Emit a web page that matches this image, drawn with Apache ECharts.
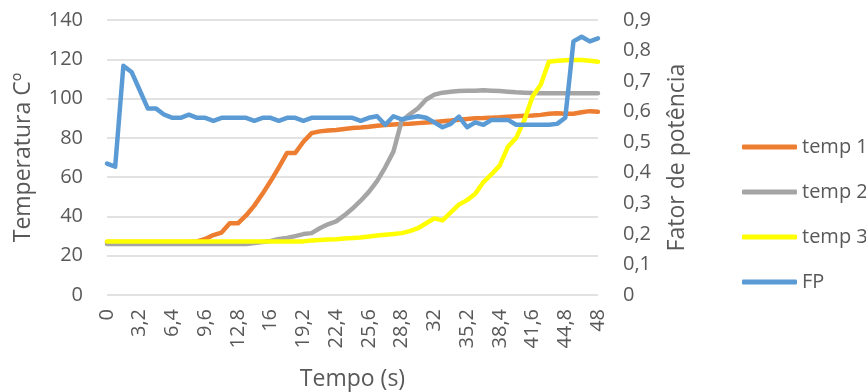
<!DOCTYPE html>
<html>
<head>
<meta charset="utf-8">
<script src="https://cdn.jsdelivr.net/npm/echarts@6/dist/echarts.min.js"></script>
<style>
html,body{margin:0;padding:0;background:#fff;}
#c{width:866px;height:392px;}
</style>
</head>
<body>
<div id="c"></div>
<script>
var categories = ['0','0,8','1,6','2,4','3,2','4','4,8','5,6','6,4','7,2','8','8,8','9,6','10,4','11,2','12','12,8','13,6','14,4','15,2','16','16,8','17,6','18,4','19,2','20','20,8','21,6','22,4','23,2','24','24,8','25,6','26,4','27,2','28','28,8','29,6','30,4','31,2','32','32,8','33,6','34,4','35,2','36','36,8','37,6','38,4','39,2','40','40,8','41,6','42,4','43,2','44','44,8','45,6','46,4','47,2','48'];

var temp1 = [27,27,27,27,27,27,27,27,27,27,
 27,27.3,28.5,30.5,31.8,36.5,36.5,40.5,45.5,51.5,
 58,65,72.3,72.3,78,82.4,83.3,83.7,84,84.5,
 85,85.3,85.7,86.2,86.6,86.8,87,87.2,87.5,87.8,
 88.1,88.5,88.8,89.2,89.6,90,90.1,90.3,90.5,90.8,
 91,91.2,91.4,91.7,92.3,92.5,92.3,92.3,93,93.6,
 93.3];

var temp2 = [26,26,26,26,26,26,26,26,26,26,
 26,26,26,26,26,26,26,26,26.5,27,
 27.5,28.5,29,30,31,31.5,34,36,37.5,40.5,
 44,48,52.5,58,65,73,88.5,92,95,99.5,
 102,103,103.5,103.8,104,104,104.2,104,103.8,103.5,
 103.2,103,102.8,102.7,102.7,102.7,102.7,102.7,102.7,102.7,
 102.7];

var temp3 = [27.3,27.3,27.3,27.3,27.3,27.3,27.3,27.3,27.3,27.3,
 27.3,27.3,27.3,27.3,27.3,27.3,27.3,27.3,27.3,27.3,
 27.3,27.3,27.3,27.3,27.3,27.8,28,28.2,28.4,28.8,
 29,29.3,29.8,30.3,30.7,31,31.5,32.5,34,36.5,
 39,38,42,46,48.3,51.5,57.5,61.5,66,75.5,
 80,89,101,107,118.8,119.3,119.5,119.6,119.6,119.3,
 118.8];

var fp = [0.43,0.42,0.75,0.73,0.67,0.61,0.61,0.59,0.58,0.58,
 0.59,0.58,0.58,0.57,0.58,0.58,0.58,0.58,0.57,0.58,
 0.58,0.57,0.58,0.58,0.57,0.58,0.58,0.58,0.58,0.58,
 0.58,0.57,0.58,0.585,0.557,0.585,0.575,0.58,0.585,0.58,
 0.565,0.549,0.56,0.584,0.549,0.565,0.557,0.573,0.573,0.573,
 0.557,0.557,0.557,0.557,0.557,0.56,0.58,0.83,0.845,0.83,
 0.84];

var seriesNames = ['temp 1','temp 2','temp 3','FP'];
var seriesColors = ['#ED7D31','#A5A5A5','#FFFF00','#5B9BD5'];

var FONT = 'Open Sans';
var TXT = '#595959';

function lineSeries(name, data, color, axisIdx) {
  return {
    name: name, type: 'line', data: data, yAxisIndex: axisIdx,
    symbol: 'none', showSymbol: false, smooth: false,
    lineStyle: {color: color, width: 4.5, cap: 'round', join: 'round'},
    itemStyle: {color: color},
    emphasis: {disabled: true}
  };
}

var chart = echarts.init(document.getElementById('c'), null, {renderer: 'canvas'});
chart.setOption({
  animation: false,
  backgroundColor: '#ffffff',
  textStyle: {fontFamily: FONT},
  grid: {left: 107, right: 268, top: 20, bottom: 97, containLabel: false, outerBoundsMode: 'none'},
  legend: {
    orient: 'vertical', left: 737, top: 130,
    itemWidth: 55, itemHeight: 5, itemGap: 21,
    icon: 'roundRect',
    data: seriesNames,
    textStyle: {color: TXT, fontSize: 20, fontFamily: FONT, lineHeight: 24}
  },
  xAxis: {
    type: 'category', data: categories, boundaryGap: false,
    name: 'Tempo (s)', nameLocation: 'middle', nameGap: 73,
    nameTextStyle: {color: TXT, fontSize: 23, fontFamily: FONT},
    axisLine: {show: false}, axisTick: {show: false},
    axisLabel: {interval: 3, rotate: 90, color: TXT, fontSize: 20, fontFamily: FONT, margin: 14},
    splitLine: {show: false}
  },
  yAxis: [{
    type: 'value', min: 0, max: 140, interval: 20,
    name: 'Temperatura Cº', nameLocation: 'middle', nameGap: 72, nameRotate: 90,
    nameTextStyle: {color: TXT, fontSize: 23, fontFamily: FONT},
    axisLine: {show: false}, axisTick: {show: false},
    axisLabel: {color: TXT, fontSize: 20, fontFamily: FONT, margin: 24},
    splitLine: {lineStyle: {color: '#D9D9D9', width: 1.5}}
  }, {
    type: 'value', min: 0, max: 0.9, interval: 0.1, position: 'right',
    name: 'Fator de potência', nameLocation: 'middle', nameGap: 68, nameRotate: 90,
    nameTextStyle: {color: TXT, fontSize: 23, fontFamily: FONT},
    axisLine: {show: false}, axisTick: {show: false},
    axisLabel: {color: TXT, fontSize: 20, fontFamily: FONT, margin: 25,
      formatter: function (v) { return (Math.round(v * 10) / 10).toString().replace('.', ','); }},
    splitLine: {show: false}
  }],
  series: [
    lineSeries(seriesNames[0], temp1, seriesColors[0], 0),
    lineSeries(seriesNames[1], temp2, seriesColors[1], 0),
    lineSeries(seriesNames[2], temp3, seriesColors[2], 0),
    lineSeries(seriesNames[3], fp, seriesColors[3], 1)
  ]
});
</script>
</body>
</html>
